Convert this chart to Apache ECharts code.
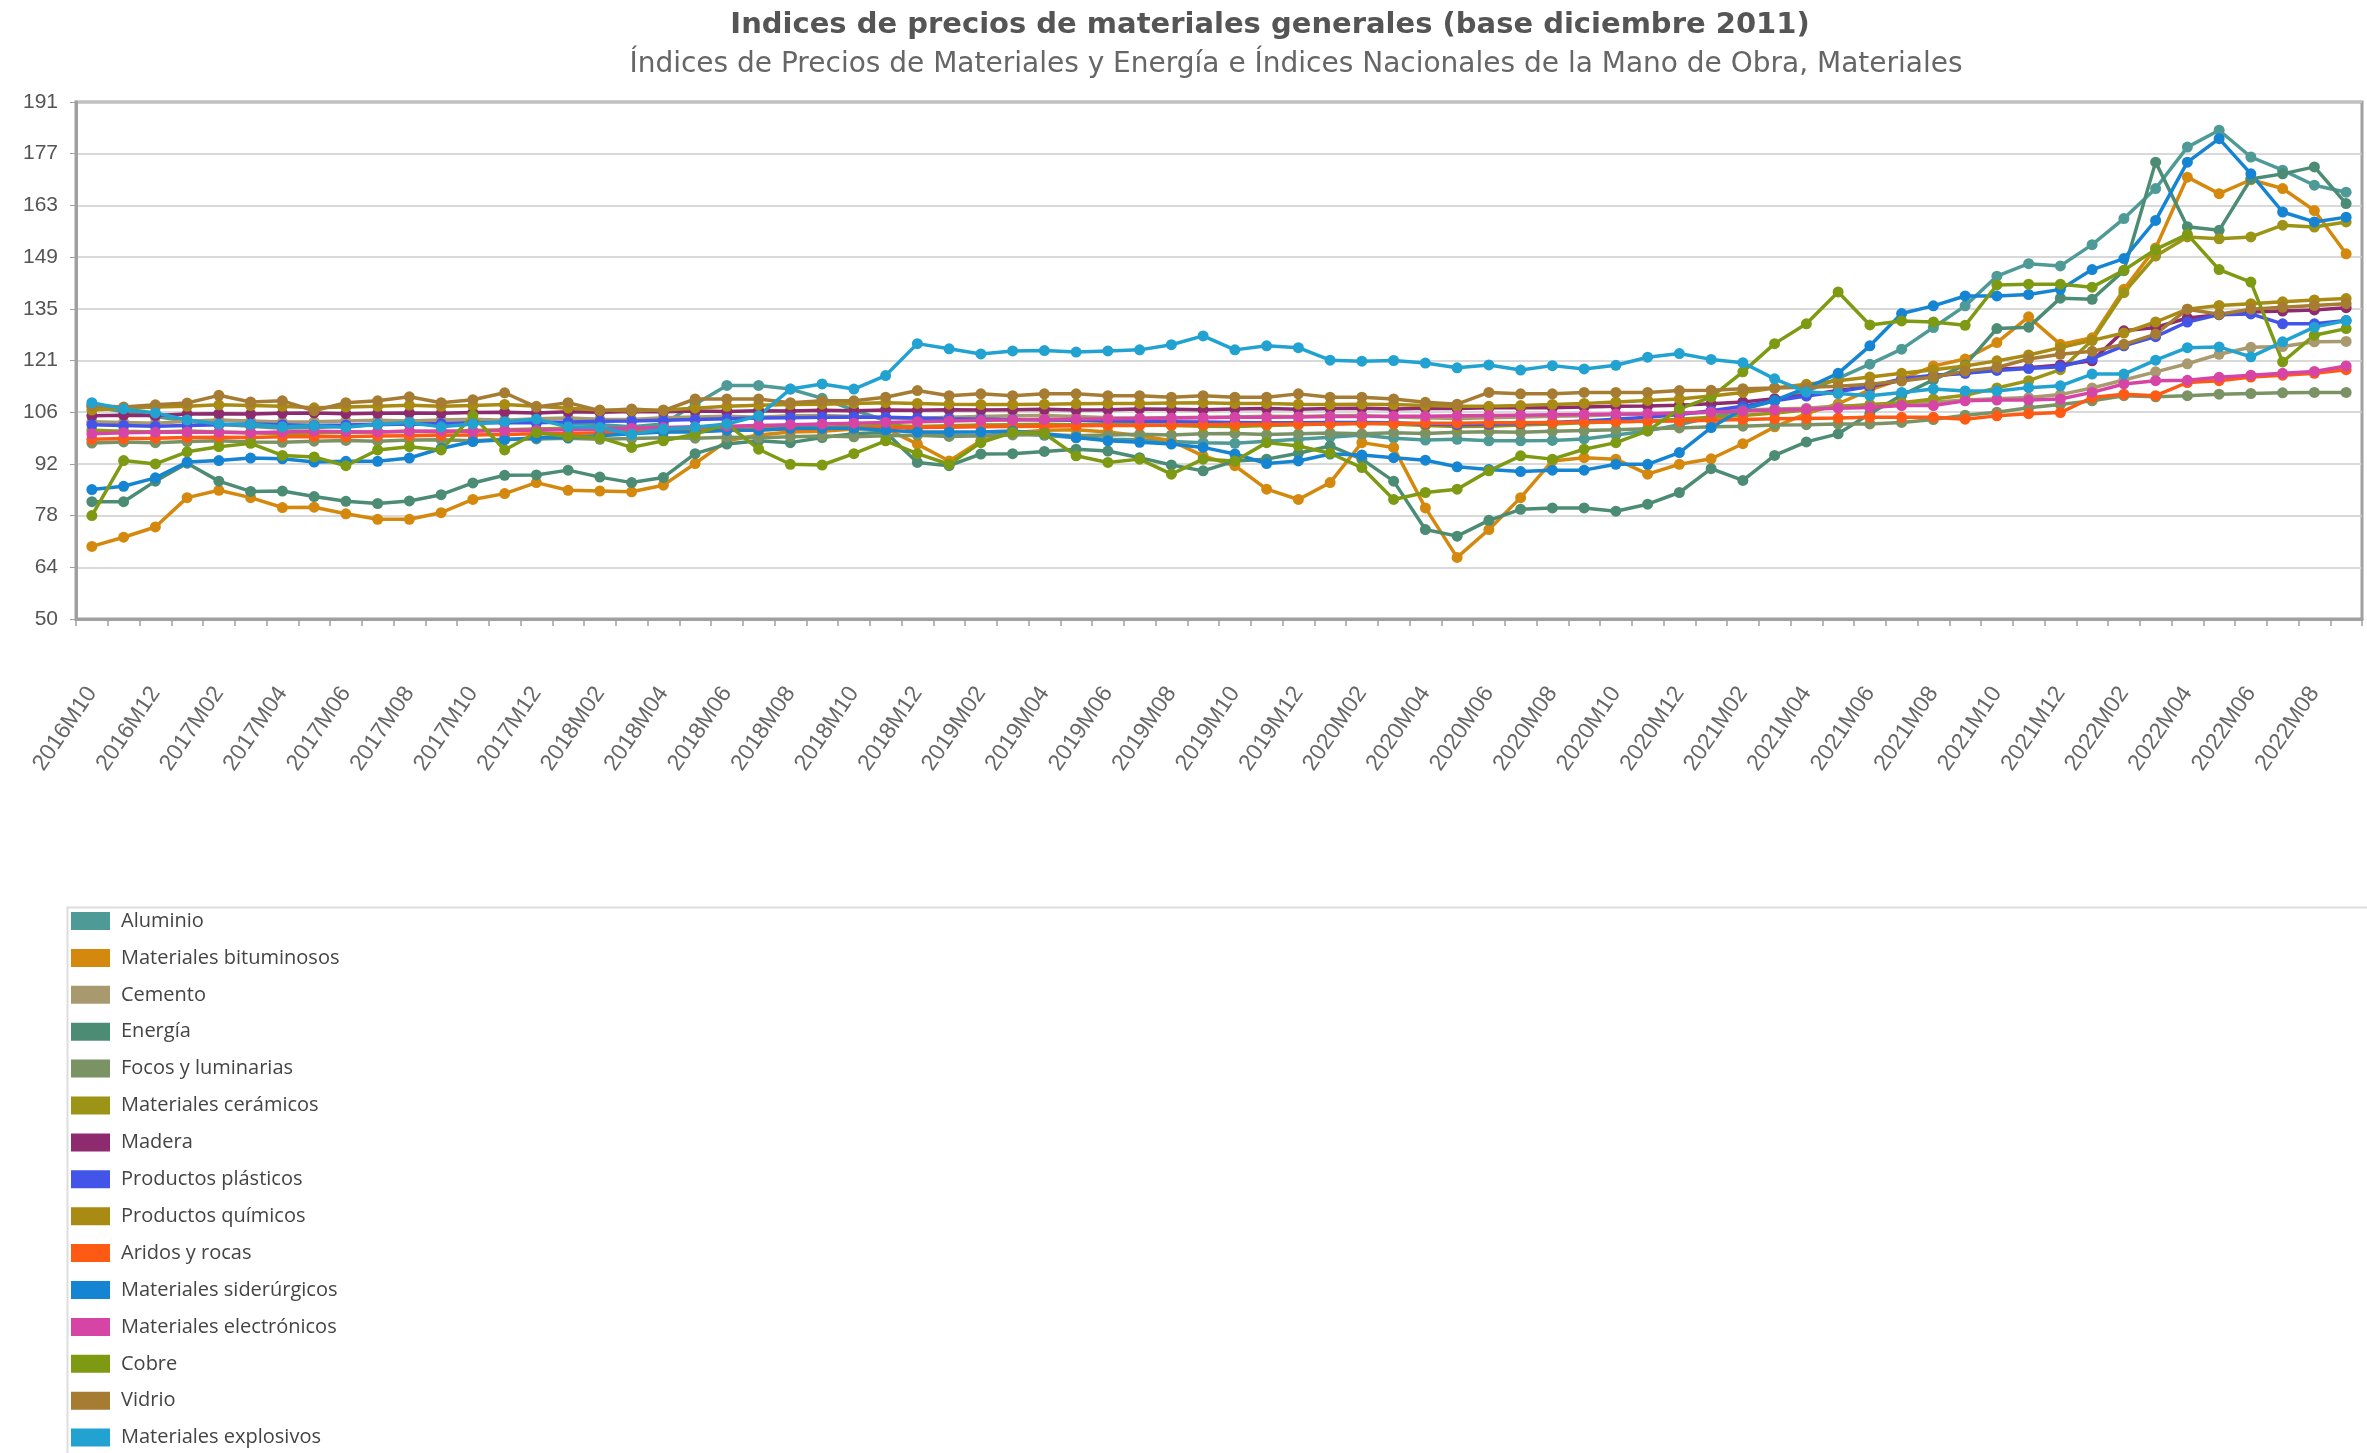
<!DOCTYPE html>
<html><head><meta charset="utf-8">
<script src="https://cdn.jsdelivr.net/npm/echarts@6/dist/echarts.min.js"></script>
<style>html,body{margin:0;padding:0;background:#fff}#c{width:2367px;height:1453px}</style>
</head><body><div id="c"></div>
<script>
const months = ['2016M10','2016M11','2016M12','2017M01','2017M02','2017M03','2017M04','2017M05','2017M06','2017M07','2017M08','2017M09','2017M10','2017M11','2017M12',
'2018M01','2018M02','2018M03','2018M04','2018M05','2018M06','2018M07','2018M08','2018M09','2018M10','2018M11','2018M12',
'2019M01','2019M02','2019M03','2019M04','2019M05','2019M06','2019M07','2019M08','2019M09','2019M10','2019M11','2019M12',
'2020M01','2020M02','2020M03','2020M04','2020M05','2020M06','2020M07','2020M08','2020M09','2020M10','2020M11','2020M12',
'2021M01','2021M02','2021M03','2021M04','2021M05','2021M06','2021M07','2021M08','2021M09','2021M10','2021M11','2021M12',
'2022M01','2022M02','2022M03','2022M04','2022M05','2022M06','2022M07','2022M08','2022M09'];

const yTickValues = [50, 64.1, 78.2, 92.3, 106.4, 120.5, 134.6, 148.7, 162.8, 176.9, 191];
const yTickLabels = ['50','64','78','92','106','121','135','149','163','177','191'];

const seriesNames = ['Aluminio','Materiales bituminosos','Cemento','Energía','Focos y luminarias','Materiales cerámicos','Madera','Productos plásticos','Productos químicos','Aridos y rocas','Materiales siderúrgicos','Materiales electrónicos','Cobre','Vidrio','Materiales explosivos'];

const aluminio = [108.0,106.5,105.2,104.0,103.1,102.6,102.0,102.2,102.6,103.0,
103.2,102.9,103.5,104.1,104.0,103.4,103.0,102.4,103.2,108.6,
113.7,113.7,112.7,110.2,107.0,104.1,101.0,100.2,100.0,100.6,
100.1,99.4,99.0,98.9,98.4,98.1,97.9,98.5,99.0,99.6,
100.2,99.3,98.8,99.0,98.6,98.6,98.7,99.1,100.2,101.3,
103.0,105.0,107.2,109.5,112.1,115.6,119.5,123.6,129.5,135.4,
143.5,146.9,146.3,152.1,159.2,167.4,178.7,183.3,176.0,172.4,
168.3,166.4];
const bituminosos = [69.8,72.3,75.1,83.1,85.1,83.1,80.4,80.5,78.7,77.2,
77.2,79.0,82.6,84.2,87.2,85.1,84.9,84.7,86.5,92.4,
98.6,100.2,101.0,101.2,101.8,102.0,97.7,93.1,98.6,100.8,
101.5,101.6,101.0,100.0,98.6,94.5,91.8,85.4,82.6,87.2,
98.1,96.8,80.3,66.8,74.4,83.1,93.1,94.0,93.6,89.5,
92.2,93.7,97.8,102.4,106.0,108.7,112.5,115.4,119.0,120.9,
125.4,132.4,124.9,126.7,139.9,151.2,170.5,166.0,169.8,167.4,
161.4,149.6];
const cemento = [103.8,103.6,103.4,103.9,104.3,104.0,103.7,103.8,104.0,104.2,
104.0,104.3,104.5,104.2,104.6,104.8,104.5,104.4,104.9,105.1,
105.3,105.0,105.4,105.5,105.2,104.9,104.7,105.0,105.2,105.4,
105.5,105.2,104.9,104.8,104.9,105.0,105.1,105.3,105.2,105.4,
105.5,105.1,104.9,104.7,104.9,105.1,105.3,105.4,105.7,105.9,
106.1,106.4,106.9,107.3,107.5,108.1,108.3,108.9,109.1,109.7,
110.1,110.4,111.2,113.0,115.2,117.4,119.6,122.2,124.1,124.3,
125.6,125.7];
const energia = [82.0,82.0,87.6,92.5,87.6,84.8,84.9,83.4,82.1,81.5,
82.2,83.9,87.1,89.2,89.3,90.6,88.7,87.2,88.6,95.1,
97.7,98.6,98.1,99.5,100.5,100.9,92.7,91.8,95.0,95.1,
95.7,96.3,95.8,94.0,92.0,90.4,93.1,93.6,95.2,97.2,
93.6,87.6,74.4,72.6,76.9,79.9,80.3,80.3,79.4,81.3,
84.5,91.0,87.8,94.6,98.3,100.5,106.0,111.0,115.2,119.3,
129.2,129.6,137.5,137.2,145.0,174.6,157.0,156.0,170.0,171.4,
173.3,163.3];
const focos = [98.0,98.3,98.1,98.4,98.6,98.3,98.2,98.5,98.7,98.5,
98.8,98.9,98.6,99.0,99.1,99.3,99.0,99.2,99.4,99.3,
99.6,99.4,99.7,99.9,99.7,100.0,100.1,99.8,100.0,100.2,
100.3,100.0,100.2,100.4,100.2,100.5,100.6,100.3,100.5,100.7,
100.5,100.8,100.6,100.9,101.1,100.9,101.2,101.4,101.6,101.9,
102.1,102.4,102.6,102.9,103.0,103.2,103.2,103.6,104.4,105.6,
106.4,107.6,108.5,109.5,110.9,110.6,110.9,111.3,111.5,111.7,
111.8,111.8];
const ceramicos = [101.5,101.2,101.0,101.3,101.0,100.8,100.5,100.7,100.9,101.0,
101.2,101.0,101.4,101.6,101.8,102.0,101.8,101.5,101.8,102.0,
102.2,102.4,102.5,102.3,102.6,102.8,102.5,102.7,102.9,103.0,
103.1,103.0,103.2,103.0,102.8,102.6,102.5,102.8,103.0,103.2,
103.4,103.2,102.8,102.5,102.6,102.9,103.2,103.5,103.8,104.0,
104.5,105.0,105.5,106.2,107.0,107.8,108.5,109.0,110.0,111.0,
113.0,115.0,118.0,126.0,139.0,149.0,154.2,153.7,154.2,157.4,
156.9,158.3];
const madera = [105.4,105.6,105.5,105.9,106.0,105.9,106.1,106.2,106.0,106.1,
106.2,106.1,106.3,106.4,106.2,106.5,106.4,106.6,106.5,106.7,
106.6,106.8,106.7,106.9,106.8,107.0,106.9,107.1,107.0,107.1,
107.2,107.0,107.1,107.3,107.2,107.1,107.3,107.4,107.2,107.4,
107.5,107.3,107.5,107.4,107.6,107.7,107.6,107.8,108.0,108.1,
108.3,108.7,109.2,110.1,111.0,112.3,113.4,115.1,116.3,117.1,
118.1,118.5,119.3,120.4,128.6,129.5,132.1,133.0,133.7,134.0,
134.3,134.9];
const plasticos = [103.0,102.8,102.6,102.8,103.0,103.2,103.0,102.8,102.9,103.1,
103.2,103.3,103.5,103.6,103.5,103.7,103.9,104.0,104.2,104.4,
104.6,104.8,104.9,105.0,105.1,105.0,104.8,104.6,104.5,104.4,
104.3,104.2,104.0,103.9,103.8,103.7,103.6,103.5,103.5,103.6,
103.6,103.5,103.2,103.0,103.1,103.3,103.6,104.0,104.5,105.0,
105.8,106.8,108.0,109.5,110.8,112.0,113.5,115.5,116.5,117.0,
117.8,118.3,118.8,121.0,124.5,127.0,131.0,133.0,133.2,130.5,
130.5,131.4];
const quimicos = [107.0,107.5,107.8,108.0,108.4,108.2,108.0,107.6,107.8,108.0,
108.3,108.0,108.2,108.5,108.0,107.5,107.0,106.8,107.0,107.5,
108.0,108.3,108.5,108.6,108.8,109.0,108.8,108.6,108.5,108.5,
108.6,108.7,108.8,108.8,108.9,109.0,108.8,108.8,108.6,108.5,
108.6,108.5,108.2,108.0,108.0,108.2,108.5,108.8,109.2,109.6,
110.0,110.8,111.8,113.0,114.0,115.0,116.0,117.0,118.0,119.0,
120.4,122.0,124.0,126.0,128.0,131.0,134.5,135.5,136.0,136.5,
137.0,137.4];
const aridos = [99.0,99.2,99.3,99.5,99.6,99.5,99.7,99.8,99.7,99.9,
100.0,100.1,100.2,100.3,100.5,100.6,100.8,101.0,101.1,101.3,
101.5,101.6,101.8,101.9,102.0,102.1,102.2,102.3,102.4,102.5,
102.6,102.7,102.8,102.8,102.9,103.0,103.1,103.1,103.2,103.2,
103.3,103.3,103.4,103.4,103.5,103.5,103.6,103.7,103.8,103.9,
104.0,104.2,104.4,104.6,104.7,104.8,105.0,105.0,105.0,104.5,
105.4,106.0,106.3,110.4,111.3,110.9,114.5,115.0,116.0,116.5,
117.0,118.0];
const siderurgicos = [85.3,86.2,88.5,92.8,93.2,93.9,93.7,92.8,93.0,93.0,
93.9,96.5,98.4,98.9,99.4,99.5,100.0,100.5,101.0,101.0,
101.5,101.5,102.0,102.0,102.0,101.5,101.0,101.0,101.0,101.3,
100.6,99.5,98.6,98.2,97.7,96.8,95.0,92.4,93.1,95.0,
94.7,94.0,93.3,91.5,90.8,90.2,90.6,90.6,92.2,92.2,
95.4,102.2,107.3,109.6,113.0,117.0,124.5,133.3,135.4,138.1,
138.1,138.5,139.9,145.3,148.3,158.7,174.6,181.0,171.4,161.0,
158.3,159.6];
const electronicos = [100.5,100.8,100.9,101.0,100.9,100.8,101.0,101.2,101.1,101.0,
101.2,101.3,101.2,101.4,101.5,101.6,101.8,102.0,102.2,102.4,
102.6,102.8,103.0,103.2,103.4,103.6,103.8,104.0,104.2,104.3,
104.4,104.5,104.6,104.7,104.8,104.9,105.0,105.0,105.1,105.2,
105.2,105.3,105.3,105.4,105.5,105.6,105.7,105.8,105.9,106.0,
106.2,106.4,106.7,107.0,107.2,107.5,107.7,108.2,108.2,109.5,
109.7,109.7,110.0,111.8,114.1,115.0,115.1,115.9,116.5,117.0,
117.5,119.0];
const cobre = [78.2,93.2,92.3,95.6,97.0,97.9,94.6,94.2,91.8,96.1,
97.0,96.1,105.5,96.1,100.8,99.8,99.5,96.8,98.6,100.4,
103.2,96.3,92.2,92.0,95.1,98.6,95.1,92.2,98.1,100.9,
100.6,94.5,92.7,93.6,89.5,93.6,93.1,98.1,97.2,95.2,
91.3,82.6,84.5,85.4,90.4,94.5,93.6,96.3,98.1,101.3,
107.3,110.5,117.4,125.1,130.5,139.2,130.2,131.3,131.0,130.1,
141.1,141.3,141.3,140.5,145.1,150.8,154.9,145.3,141.9,120.1,
127.4,129.2];
const vidrio = [108.2,107.8,108.4,108.9,111.0,109.2,109.5,106.8,109.0,109.5,
110.6,109.0,109.8,111.7,107.8,109.0,106.8,107.3,106.8,110.0,
110.0,110.0,109.0,109.5,109.5,110.5,112.3,110.9,111.4,110.9,
111.4,111.4,110.9,110.9,110.5,110.9,110.5,110.5,111.4,110.5,
110.5,110.0,109.1,108.6,111.8,111.4,111.4,111.8,111.8,111.8,
112.3,112.4,112.8,113.0,113.2,113.5,114.0,114.9,116.0,117.6,
118.6,120.9,122.2,123.0,124.9,127.7,134.5,133.1,134.5,135.0,
135.5,136.0];
const explosivos = [109.0,107.3,106.2,104.3,103.2,103.1,102.4,102.7,102.3,103.1,
103.6,102.4,103.2,103.8,104.5,102.4,102.2,100.4,101.8,102.3,
103.2,105.4,112.7,114.1,112.7,116.4,125.1,123.7,122.3,123.1,
123.2,122.8,123.1,123.4,124.8,127.2,123.4,124.5,124.0,120.6,
120.3,120.5,119.8,118.5,119.3,117.9,119.1,118.2,119.2,121.4,
122.4,120.8,119.9,115.5,111.9,111.5,110.9,111.8,112.7,112.2,
112.2,113.1,113.6,116.8,116.8,120.6,124.0,124.2,121.5,125.6,
129.6,131.4];

const seriesData = [aluminio, bituminosos, cemento, energia, focos, ceramicos, madera, plasticos, quimicos, aridos, siderurgicos, electronicos, cobre, vidrio, explosivos];
const seriesColors = ['#4e9a97','#d4890e','#a89a6e','#4c8c74','#7b9364','#9c9417','#8e2a6e','#4355e8','#a98a12','#ff5a14','#1584d2','#d645a6','#7d9a12','#a67c33','#22a2d0'];

const chart = echarts.init(document.getElementById('c'), null, {renderer:'canvas'});
const option = {
  animation: false,
  backgroundColor: '#ffffff',
  title: [
    {text: 'Indices de precios de materiales generales (base diciembre 2011)', left: 1265, top: 6, textAlign: 'center',
     textStyle: {fontFamily: 'DejaVu Sans', fontSize: 29, fontWeight: 'bold', color: '#555555'}},
    {text: 'Índices de Precios de Materiales y Energía e Índices Nacionales de la Mano de Obra, Materiales', left: 1291, top: 46, textAlign: 'center',
     textStyle: {fontFamily: 'DejaVu Sans', fontSize: 28, fontWeight: 'normal', color: '#666666'}}
  ],
  grid: {left: 76, right: 5, top: 102, bottom: 834, show: true, borderColor: '#a0a0a0', borderWidth: 3, outerBoundsMode: 'none'},
  xAxis: {
    type: 'category', data: months, boundaryGap: true,
    axisLine: {lineStyle: {color: '#a0a0a0', width: 3}},
    axisTick: {show: true, interval: 0, length: 7, lineStyle: {color: '#a0a0a0', width: 1.5}},
    axisLabel: {interval: 1, rotate: 56, margin: 70, fontFamily: 'Liberation Sans', fontSize: 23, color: '#666666'},
    splitLine: {show: false}
  },
  yAxis: {
    type: 'value', min: 50, max: 191,
    axisLine: {show: true, lineStyle: {color: '#a0a0a0', width: 3}},
    axisTick: {show: true, length: 6, customValues: yTickValues, lineStyle: {color: '#a0a0a0'}},
    axisLabel: {customValues: yTickValues, margin: 18, fontFamily: 'Liberation Sans', fontSize: 21, color: '#555555',
      formatter: function (v) { const k = yTickValues.findIndex(t => Math.abs(t - v) < 0.01); return k >= 0 ? yTickLabels[k] : ''; }},
    splitLine: {show: true, lineStyle: {color: '#cccccc', width: 1.5}}
  },
  legend: {
    orient: 'vertical', left: 66, top: 906, height: 560, icon: 'rect', itemWidth: 39, itemHeight: 18, itemGap: 16.9,
    textStyle: {fontFamily: 'Open Sans', fontSize: 20, lineHeight: 18, color: '#444444', padding: [0, 0, 0, 6]},
    data: seriesNames
  },
  graphic: [{type: 'rect', left: 65, top: 905, shape: {width: 2400, height: 600}, style: {fill: 'none', stroke: '#dddddd', lineWidth: 2}, silent: true, z: -1}],
  series: seriesNames.map(function (n, k) {
    return {name: n, type: 'line', data: seriesData[k], symbol: 'circle', symbolSize: 11, showSymbol: true,
      lineStyle: {width: 3.5, color: seriesColors[k]}, itemStyle: {color: seriesColors[k]}, emphasis: {disabled: true}};
  })
};
chart.setOption(option);
</script></body></html>
